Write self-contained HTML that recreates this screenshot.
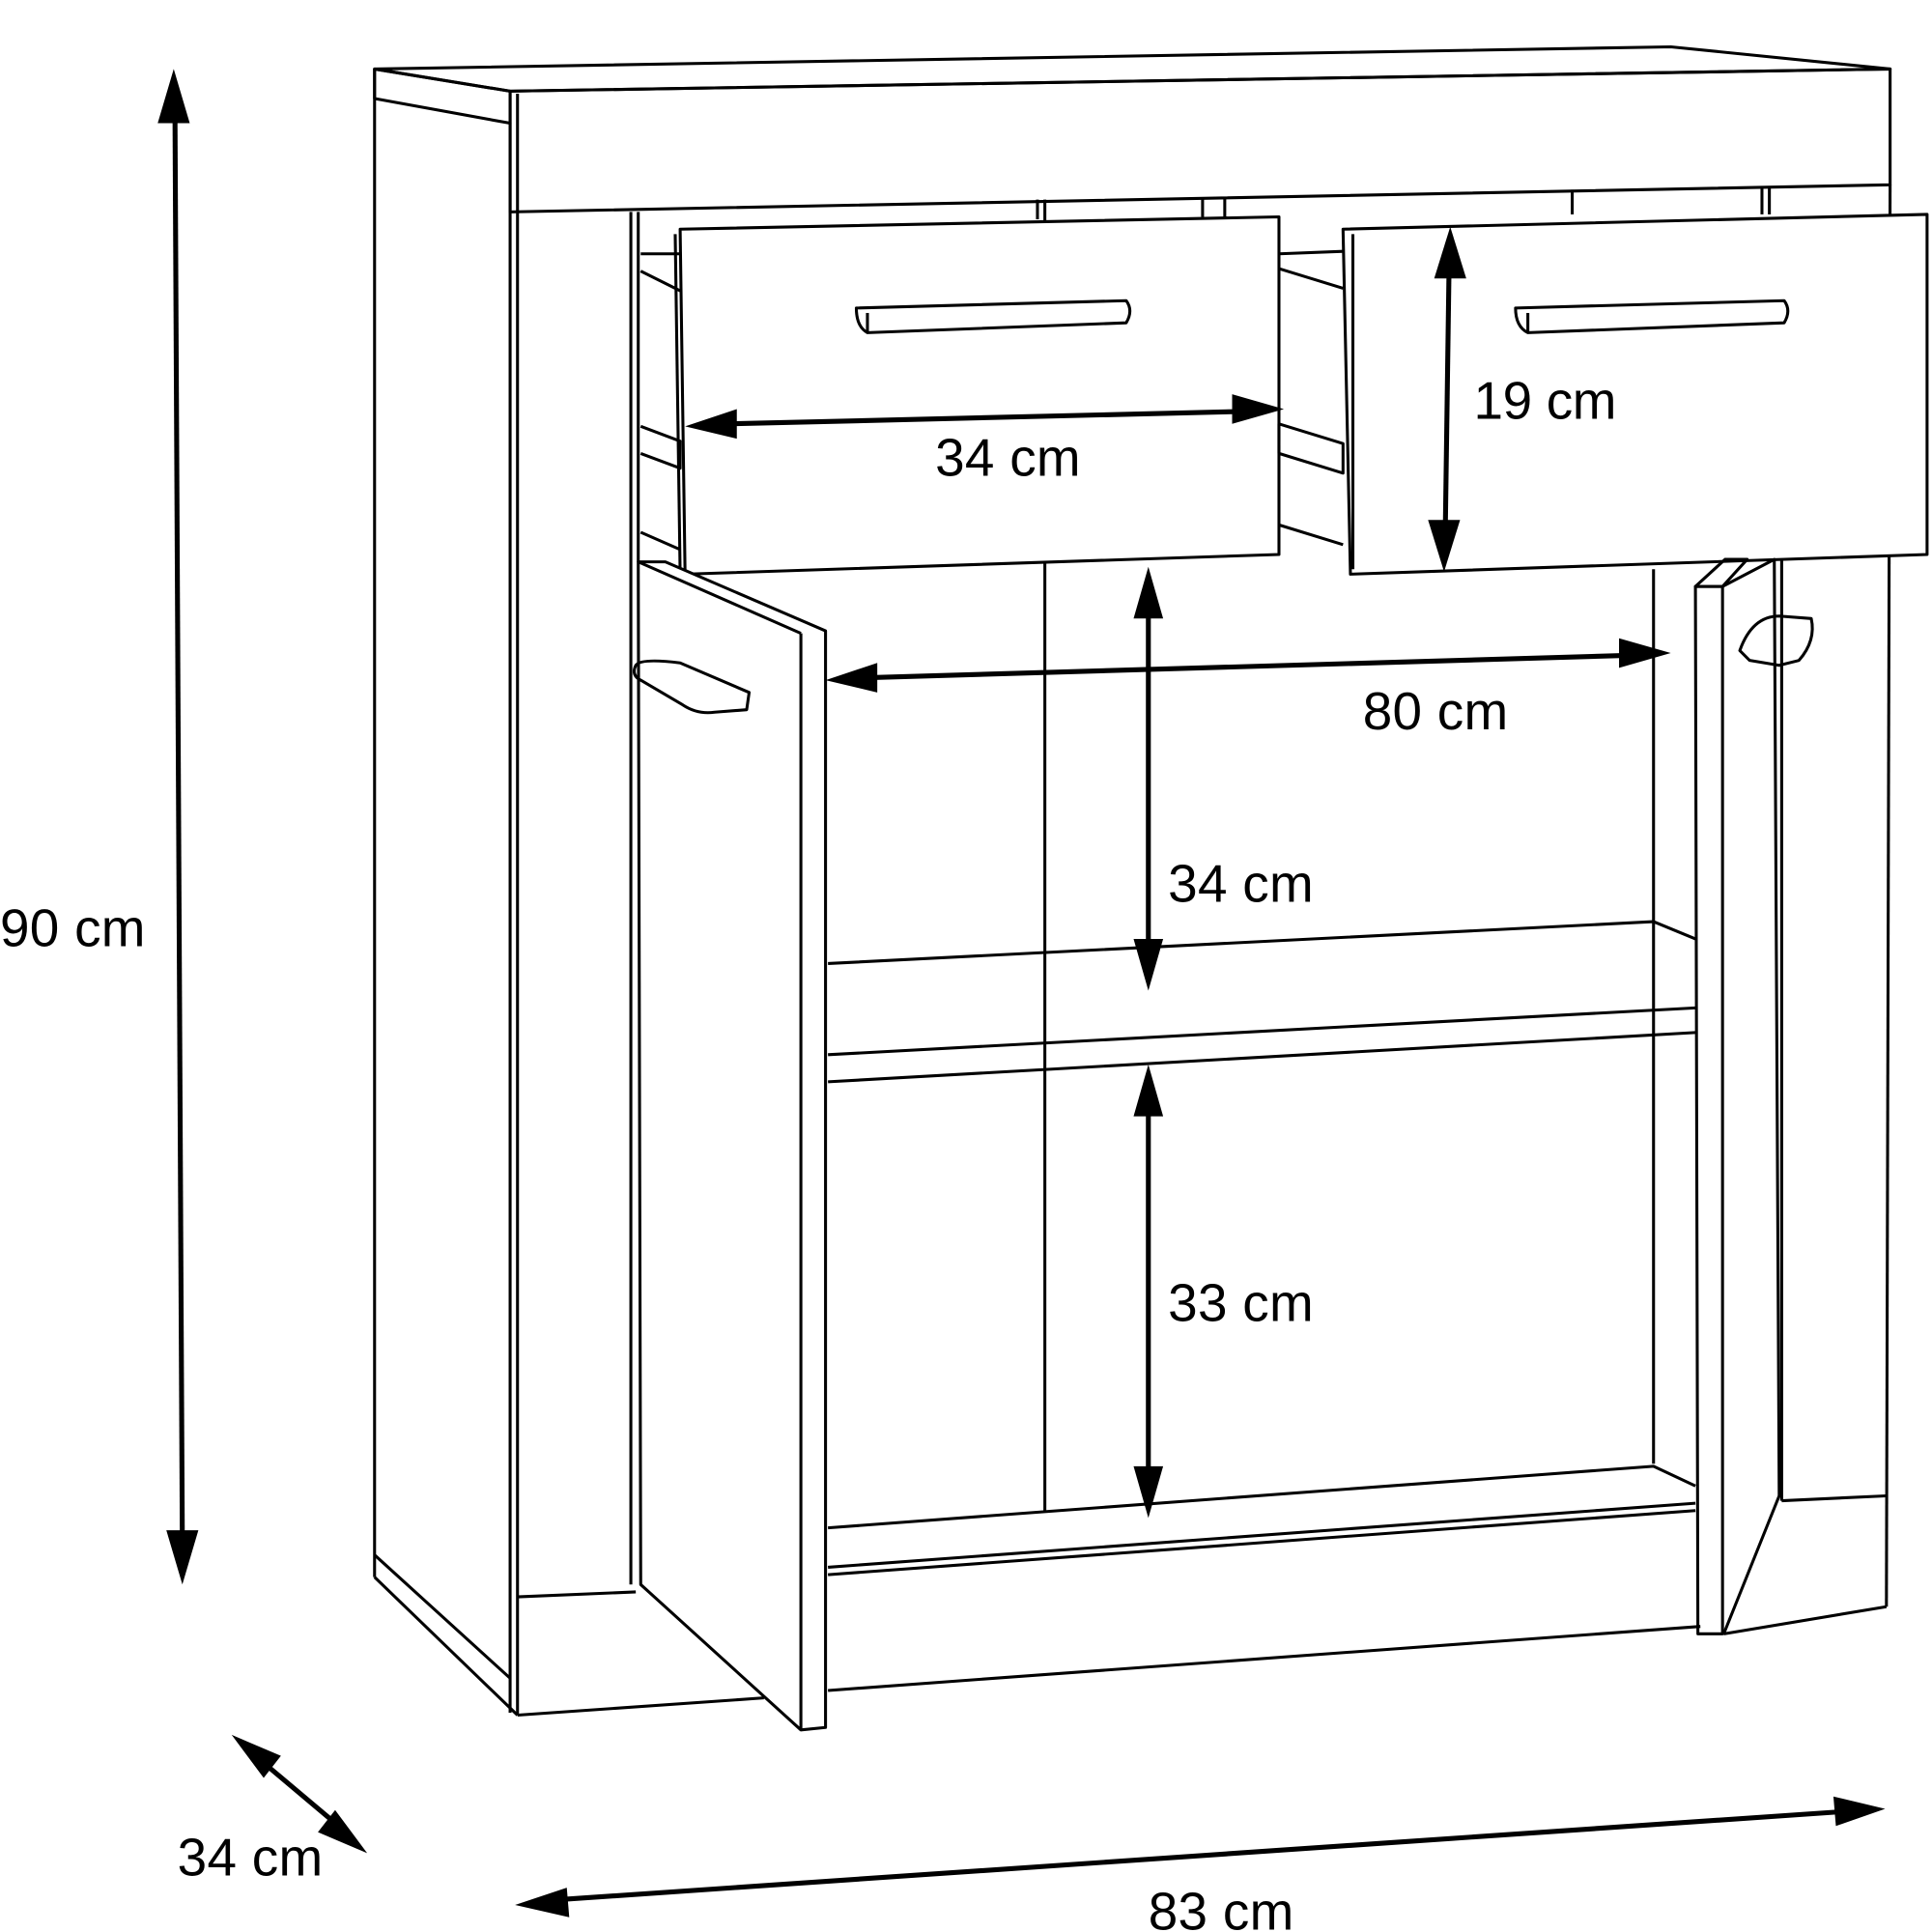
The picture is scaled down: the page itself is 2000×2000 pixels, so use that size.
<!DOCTYPE html>
<html><head><meta charset="utf-8"><style>
html,body{margin:0;padding:0;background:#fff}
svg{display:block}
text{font-family:"Liberation Sans",sans-serif;font-size:43px;fill:#000}
</style></head><body>
<svg width="2000" height="2000" viewBox="0 0 1568 1568" xmlns="http://www.w3.org/2000/svg">
<g fill="none" stroke="#000" stroke-width="2.4" stroke-linejoin="round">
<polygon points="304,56 1356,38 1534,56 414,74"/>
<polygon points="414,74 1534,56 1534,150 414,172"/>
<line x1="304" y1="56" x2="304" y2="1280"/>
<polygon points="304,56 414,74 414,100 304,80"/>
<line x1="414" y1="100" x2="414" y2="1390"/>
<line x1="420" y1="76" x2="420" y2="1392"/>
<line x1="304" y1="1262" x2="414" y2="1362"/>
<line x1="304" y1="1280" x2="420" y2="1392"/>
<line x1="1534" y1="150" x2="1531" y2="1304"/>
<line x1="1446" y1="454" x2="1446" y2="1218"/>
<line x1="1446" y1="1218" x2="1531" y2="1214"/>
<line x1="1399" y1="1326" x2="1531" y2="1304"/>
<polyline points="420,1296 516,1292"/>
<polyline points="420,1392 620,1378"/>
<polyline points="672,1372 1380,1320"/>
<polyline points="672,1278 1376,1226"/>
<polyline points="672,1272 1376,1220"/>
<line x1="512" y1="172" x2="512" y2="1286"/>
<line x1="518" y1="172" x2="518" y2="456"/>
<line x1="848" y1="162" x2="848" y2="1226"/>
<line x1="842" y1="162" x2="842" y2="178"/>
<line x1="1342" y1="462" x2="1342" y2="1188"/>
<line x1="1276" y1="154" x2="1276" y2="174"/>
<line x1="976" y1="160" x2="976" y2="176"/>
<line x1="994" y1="160" x2="994" y2="176"/>
<line x1="1430" y1="152" x2="1430" y2="174"/>
<line x1="1436" y1="152" x2="1436" y2="174"/>
<polyline points="672,782 1342,748 1376,762"/>
<polyline points="672,856 1376,818"/>
<polyline points="672,878 1376,838"/>
<polyline points="672,1240 1342,1190 1376,1206"/>
<polygon fill="#fff" points="552,186 1038,176 1038,450 556,466"/>
<line x1="548" y1="190" x2="552" y2="466"/>
<polyline points="520,206 552,206"/>
<polyline points="520,220 552,236"/>
<polyline points="520,346 552,358 552,380 520,368 Z"/>
<polyline points="520,432 552,446"/>
<polygon fill="#fff" points="1090,186 1564,174 1564,450 1096,466"/>
<line x1="1098" y1="190" x2="1098" y2="462"/>
<polyline points="1038,206 1090,204"/>
<polyline points="1038,218 1090,234"/>
<polygon points="1038,344 1090,360 1090,384 1038,368"/>
<polyline points="1038,426 1090,442"/>
<path d="M695,250 L914,244 Q920,252 914,262 L704,270 Q695,265 695,250 Z"/>
<line x1="704" y1="254" x2="704" y2="270"/>
<path d="M1230,250 L1448,244 Q1454,252 1448,262 L1240,270 Q1230,265 1230,250 Z"/>
<line x1="1240" y1="254" x2="1240" y2="270"/>
<polygon fill="#fff" points="518,456 540,456 670,512 670,1402 650,1404 520,1286"/>
<line x1="518" y1="456" x2="650" y2="514"/>
<line x1="650" y1="514" x2="650" y2="1404"/>
<path d="M516,540 Q520,534 552,538 L608,562 L606,576 L580,578 Q566,580 554,572 L520,552 Q512,548 516,540 Z"/>
<polygon points="1376,476 1398,476 1398,1326 1378,1326"/>
<polygon points="1376,476 1400,454 1418,454 1398,476"/>
<polyline points="1398,476 1440,454 1444,1214 1399,1326"/>
<path d="M1412,528 Q1422,500 1444,500 L1470,502 Q1474,520 1460,536 L1444,540 L1420,536 Z"/>
</g>
<g stroke="#000" stroke-width="4" fill="none">
<line x1="142" y1="90" x2="148" y2="1256"/>
<line x1="206" y1="1424" x2="282" y2="1488"/>
<line x1="450" y1="1542" x2="1500" y2="1470"/>
<line x1="592" y1="344" x2="1006" y2="334"/>
<line x1="704" y1="550" x2="1318" y2="532"/>
<line x1="1176" y1="220" x2="1173" y2="430"/>
<line x1="932" y1="496" x2="932" y2="770"/>
<line x1="932" y1="900" x2="932" y2="1196"/>
</g>
<g fill="#000">
<polygon points="141,56 128,100 154,100"/>
<polygon points="148,1286 135,1242 161,1242"/>
<polygon points="188,1408 214,1443 228,1425"/>
<polygon points="298,1504 272,1469 258,1487"/>
<polygon points="418,1546 460,1532 462,1556"/>
<polygon points="1530,1468 1488,1458 1490,1482"/>
<polygon points="556,346 598,332 598,356"/>
<polygon points="1042,332 1000,320 1000,344"/>
<polygon points="670,552 712,538 712,562"/>
<polygon points="1356,530 1314,518 1314,542"/>
<polygon points="1177,184 1164,226 1190,226"/>
<polygon points="1172,464 1159,422 1185,422"/>
<polygon points="932,460 920,502 944,502"/>
<polygon points="932,804 920,762 944,762"/>
<polygon points="932,864 920,906 944,906"/>
<polygon points="932,1232 920,1190 944,1190"/>
</g>
<text x="0" y="768" textLength="118">90 cm</text>
<text x="144" y="1522" textLength="118">34 cm</text>
<text x="932" y="1566" textLength="118">83 cm</text>
<text x="759" y="386" textLength="118">34 cm</text>
<text x="1196" y="340" textLength="116">19 cm</text>
<text x="1106" y="592" textLength="118">80 cm</text>
<text x="948" y="732" textLength="118">34 cm</text>
<text x="948" y="1072" textLength="118">33 cm</text>
</svg>
</body></html>
